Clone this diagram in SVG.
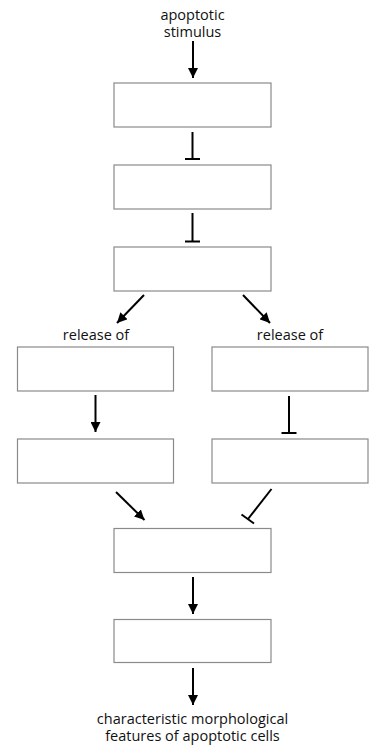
<svg xmlns="http://www.w3.org/2000/svg" width="377" height="745" viewBox="0 0 377 745">
<defs>
<marker id="ah" markerWidth="10" markerHeight="10" viewBox="0 0 10 10" refX="10" refY="5" orient="auto" markerUnits="userSpaceOnUse">
<path d="M0,0 L10,5 L0,10 Z" fill="#000"/>
</marker>
</defs>
<style>
.box{fill:#fff;stroke:#8a8a8a;stroke-width:1.2}
.c{stroke:#000;stroke-width:2;fill:none}
.t{font-family:"Open Sans","DejaVu Sans",sans-serif;font-size:14.5px;fill:#111;text-anchor:middle}
</style>
<rect width="377" height="745" fill="#fff"/>
<g id="labels">
<text class="t" x="192.5" y="20">apoptotic</text>
<text class="t" x="192.5" y="37">stimulus</text>
<text class="t" x="96" y="339.5">release of</text>
<text class="t" x="290" y="339.5">release of</text>
<text class="t" x="192.5" y="724">characteristic morphological</text>
<text class="t" x="192.5" y="740.5">features of apoptotic cells</text>
</g>
<g id="n1"><rect class="box" x="114" y="83" width="157" height="44"/></g>
<g id="n2"><rect class="box" x="114" y="165" width="157" height="44"/></g>
<g id="n3"><rect class="box" x="114" y="247" width="157" height="44"/></g>
<g id="n4"><rect class="box" x="17.5" y="347" width="156" height="44"/></g>
<g id="n5"><rect class="box" x="212" y="347" width="156" height="44"/></g>
<g id="n6"><rect class="box" x="17.5" y="439" width="156" height="44"/></g>
<g id="n7"><rect class="box" x="212" y="439" width="156" height="44"/></g>
<g id="n8"><rect class="box" x="114" y="528.5" width="157" height="44"/></g>
<g id="n9"><rect class="box" x="114" y="619.5" width="157" height="43"/></g>
<g id="connectors">
<line class="c" x1="193" y1="41" x2="193" y2="78" marker-end="url(#ah)"/>
<line class="c" x1="192.5" y1="132" x2="192.5" y2="159"/>
<line class="c" x1="185" y1="159" x2="200" y2="159"/>
<line class="c" x1="192.5" y1="213" x2="192.5" y2="241.5"/>
<line class="c" x1="185" y1="241.5" x2="200" y2="241.5"/>
<line class="c" x1="144" y1="295" x2="117" y2="323" marker-end="url(#ah)"/>
<line class="c" x1="243" y1="295" x2="270" y2="323" marker-end="url(#ah)"/>
<line class="c" x1="95.5" y1="395" x2="95.5" y2="432" marker-end="url(#ah)"/>
<line class="c" x1="289" y1="396" x2="289" y2="433"/>
<line class="c" x1="281.5" y1="433" x2="296.5" y2="433"/>
<line class="c" x1="116" y1="492" x2="144.5" y2="520" marker-end="url(#ah)"/>
<line class="c" x1="271.5" y1="489" x2="248" y2="519"/>
<line class="c" x1="241.5" y1="514.5" x2="254" y2="523.5"/>
<line class="c" x1="193" y1="577" x2="193" y2="614" marker-end="url(#ah)"/>
<line class="c" x1="193" y1="668" x2="193" y2="705" marker-end="url(#ah)"/>
</g>
</svg>
